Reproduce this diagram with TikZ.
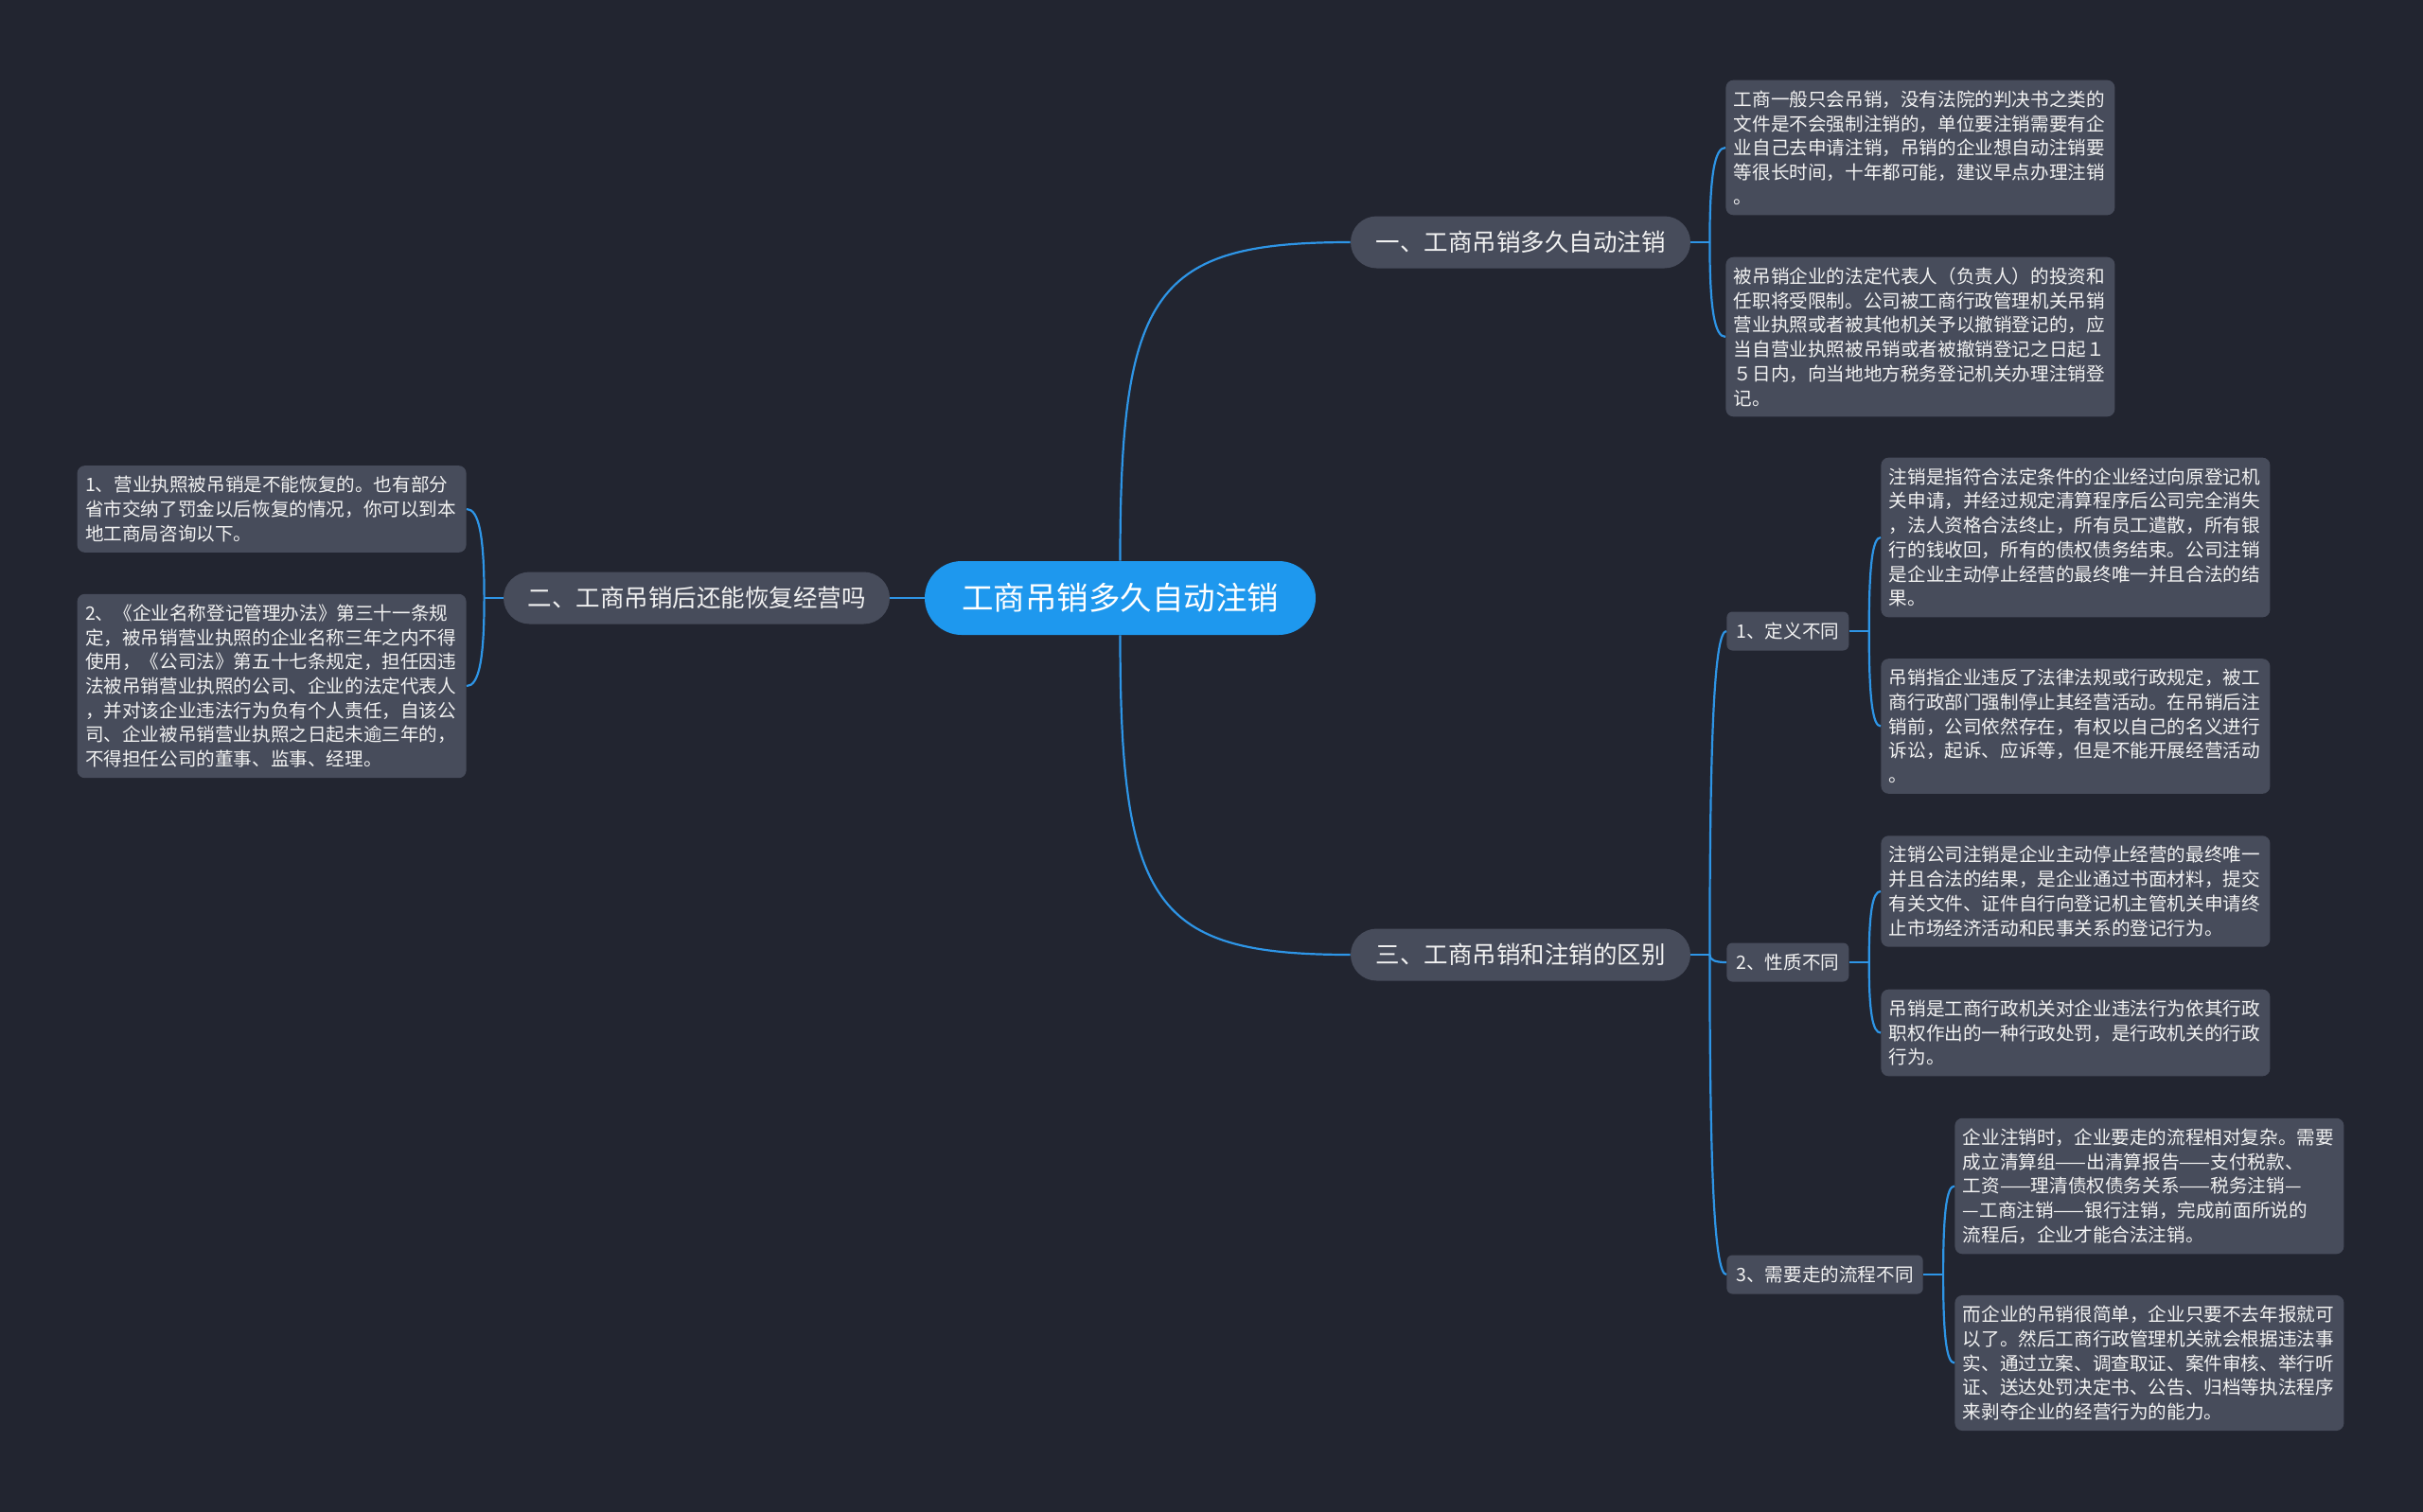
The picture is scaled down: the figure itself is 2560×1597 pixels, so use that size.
\documentclass[tikz,border=0pt]{standalone}
\usepackage{fontspec}
\setmainfont{Noto Sans CJK SC}
\usetikzlibrary{calc}
\definecolor{bgc}{HTML}{222530}
\definecolor{boxc}{HTML}{474C5B}
\definecolor{rootc}{HTML}{1E98EE}
\definecolor{linec}{HTML}{2E95E6}
\definecolor{txtc}{HTML}{F2F2F2}
\newcommand\mmbranch[2]{%
  \coordinate (mmk) at (#1 |- #2);
  \draw[conn] (#1) .. controls ($(#1)!0.7!(mmk)$) and ($(#2)!0.7!(mmk)$) .. (#2);}
\begin{document}
\begin{tikzpicture}[x=0.5pt,y=-0.5pt,
  leaf/.style={fill=boxc, rounded corners=4pt, text=txtc,
    font=\fontsize{9.8pt}{12.85pt}\selectfont, text width=197pt,
    inner xsep=4.25pt, inner ysep=5.5pt, align=left},
  lvone/.style={fill=boxc, rounded corners=13.75pt, text=txtc,
    font=\fontsize{12.75pt}{15pt}\selectfont, minimum height=27.5pt, inner sep=0pt},
  rootn/.style={fill=rootc, rounded corners=19.5pt, text=white,
    font=\fontsize{16.75pt}{20pt}\selectfont, minimum width=206.5pt,
    minimum height=39pt, inner sep=0pt},
  lvtwo/.style={fill=boxc, rounded corners=3pt, text=txtc,
    font=\fontsize{9.8pt}{12pt}\selectfont, minimum height=20.5pt,
    inner xsep=5pt, inner ysep=0pt, anchor=west},
  conn/.style={draw=linec, line width=1.1pt}]
\useasboundingbox (0,0) rectangle (2560,1597);
\fill[bgc] (-20,-20) rectangle (2580,1620);

\path (1183.5,632) node[rootn] (root) {工商吊销多久自动注销};
\path (1606.5,256) node[lvone, minimum width=179.5pt] (one) {一、工商吊销多久自动注销};
\path (736,632) node[lvone, minimum width=204pt] (two) {二、工商吊销后还能恢复经营吗};
\path (1606.5,1009) node[lvone, minimum width=179.5pt] (three) {三、工商吊销和注销的区别};

\node[lvtwo] (a1) at (1824,667) {1、定义不同};
\node[lvtwo] (a2) at (1824,1017) {2、性质不同};
\node[lvtwo] (a3) at (1824,1347) {3、需要走的流程不同};

\node[leaf, anchor=west] (t1) at (1823,156) {工商一般只会吊销，没有法院的判决书之类的\\
文件是不会强制注销的，单位要注销需要有企\\
业自己去申请注销，吊销的企业想自动注销要\\
等很长时间，十年都可能，建议早点办理注销\\
。};
\node[leaf, anchor=west] (t2) at (1823,356) {被吊销企业的法定代表人（负责人）的投资和\\
任职将受限制。公司被工商行政管理机关吊销\\
营业执照或者被其他机关予以撤销登记的，应\\
当自营业执照被吊销或者被撤销登记之日起１\\
５日内，向当地地方税务登记机关办理注销登\\
记。};
\node[leaf, anchor=west] (d1) at (1987,568) {注销是指符合法定条件的企业经过向原登记机\\
关申请，并经过规定清算程序后公司完全消失\\
，法人资格合法终止，所有员工遣散，所有银\\
行的钱收回，所有的债权债务结束。公司注销\\
是企业主动停止经营的最终唯一并且合法的结\\
果。};
\node[leaf, anchor=west] (d2) at (1987,767.5) {吊销指企业违反了法律法规或行政规定，被工\\
商行政部门强制停止其经营活动。在吊销后注\\
销前，公司依然存在，有权以自己的名义进行\\
诉讼，起诉、应诉等，但是不能开展经营活动\\
。};
\node[leaf, anchor=west] (n1) at (1987,942) {注销公司注销是企业主动停止经营的最终唯一\\
并且合法的结果，是企业通过书面材料，提交\\
有关文件、证件自行向登记机主管机关申请终\\
止市场经济活动和民事关系的登记行为。};
\node[leaf, anchor=west] (n2) at (1987,1091.5) {吊销是工商行政机关对企业违法行为依其行政\\
职权作出的一种行政处罚，是行政机关的行政\\
行为。};
\node[leaf, anchor=west] (p1) at (2065,1253.5) {企业注销时，企业要走的流程相对复杂。需要\\
成立清算组——出清算报告——支付税款、\\
工资——理清债权债务关系——税务注销—\\
—工商注销——银行注销，完成前面所说的\\
流程后，企业才能合法注销。};
\node[leaf, anchor=west] (p2) at (2065,1440.5) {而企业的吊销很简单，企业只要不去年报就可\\
以了。然后工商行政管理机关就会根据违法事\\
实、通过立案、调查取证、案件审核、举行听\\
证、送达处罚决定书、公告、归档等执法程序\\
来剥夺企业的经营行为的能力。};
\node[leaf, anchor=east] (l1) at (493,538) {1、营业执照被吊销是不能恢复的。也有部分\\
省市交纳了罚金以后恢复的情况，你可以到本\\
地工商局咨询以下。};
\node[leaf, anchor=east] (l2) at (493,725) {2、《企业名称登记管理办法》第三十一条规\\
定，被吊销营业执照的企业名称三年之内不得\\
使用，《公司法》第五十七条规定，担任因违\\
法被吊销营业执照的公司、企业的法定代表人\\
，并对该企业违法行为负有个人责任，自该公\\
司、企业被吊销营业执照之日起未逾三年的，\\
不得担任公司的董事、监事、经理。};

% root connectors
\draw[conn] (root.west) -- (two.east);
\coordinate (cu) at (root.north |- one.west);
\draw[conn] (root.north) .. controls ($(root.north)!0.85!(cu)$) and ($(one.west)!0.85!(cu)$) .. (one.west);
\coordinate (cd) at (root.south |- three.west);
\draw[conn] (root.south) .. controls ($(root.south)!0.85!(cd)$) and ($(three.west)!0.85!(cd)$) .. (three.west);

% branch stubs
\draw[conn] (one.east) -- ++(20,0) coordinate (j1);
\mmbranch{j1}{t1.west}
\mmbranch{j1}{t2.west}
\draw[conn] (two.west) -- ++(-20,0) coordinate (j2);
\mmbranch{j2}{l1.east}
\mmbranch{j2}{l2.east}
\draw[conn] (three.east) -- ++(20,0) coordinate (j3);
\mmbranch{j3}{a1.west}
\mmbranch{j3}{a2.west}
\mmbranch{j3}{a3.west}
\draw[conn] (a1.east) -- ++(21,0) coordinate (k1);
\mmbranch{k1}{d1.west}
\mmbranch{k1}{d2.west}
\draw[conn] (a2.east) -- ++(21,0) coordinate (k2);
\mmbranch{k2}{n1.west}
\mmbranch{k2}{n2.west}
\draw[conn] (a3.east) -- ++(21,0) coordinate (k3);
\mmbranch{k3}{p1.west}
\mmbranch{k3}{p2.west}
\end{tikzpicture}
\end{document}
